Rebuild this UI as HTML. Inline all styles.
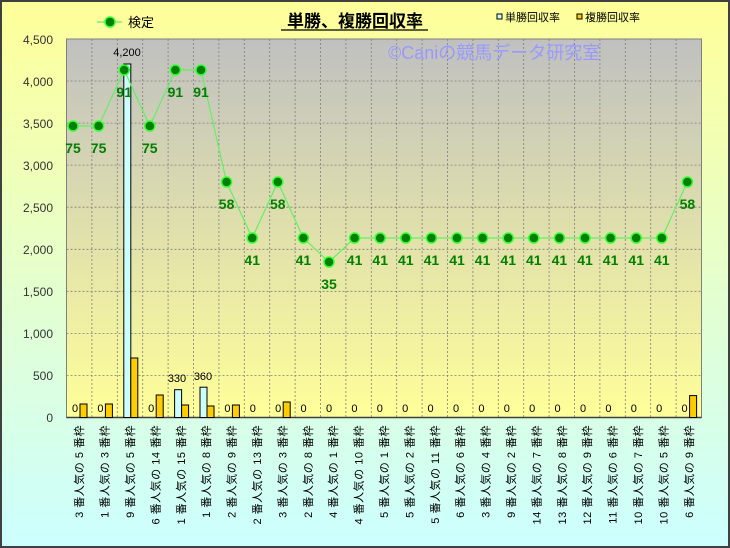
<!DOCTYPE html>
<html><head><meta charset="utf-8"><style>
html,body{margin:0;padding:0;}
svg{display:block;font-family:"Liberation Sans","Noto Sans CJK JP",sans-serif;}
</style></head><body>
<svg width="730" height="548" viewBox="0 0 730 548" xmlns="http://www.w3.org/2000/svg">
<defs>
<linearGradient id="bg" x1="0" y1="0" x2="0" y2="1"><stop offset="0" stop-color="#ffff99"/><stop offset="1" stop-color="#ccffff"/></linearGradient>
<linearGradient id="pa" x1="0" y1="0" x2="0" y2="1"><stop offset="0" stop-color="#c0c0c0"/><stop offset="1" stop-color="#ffff99"/></linearGradient>
</defs>
<rect x="1" y="1" width="728" height="546" fill="url(#bg)" stroke="#404040" stroke-width="2"/>
<rect x="66.5" y="39" width="635" height="378.5" fill="url(#pa)" stroke="#808080"/>
<g stroke="#808080" stroke-dasharray="2,2" stroke-width="0.8">
<line x1="66.5" x2="701.5" y1="375.4" y2="375.4"/><line x1="66.5" x2="701.5" y1="333.4" y2="333.4"/><line x1="66.5" x2="701.5" y1="291.3" y2="291.3"/><line x1="66.5" x2="701.5" y1="249.3" y2="249.3"/><line x1="66.5" x2="701.5" y1="207.2" y2="207.2"/><line x1="66.5" x2="701.5" y1="165.1" y2="165.1"/><line x1="66.5" x2="701.5" y1="123.1" y2="123.1"/><line x1="66.5" x2="701.5" y1="81" y2="81"/>
<line y1="39" y2="417.5" x1="91.9" x2="91.9"/><line y1="39" y2="417.5" x1="117.3" x2="117.3"/><line y1="39" y2="417.5" x1="142.7" x2="142.7"/><line y1="39" y2="417.5" x1="168.1" x2="168.1"/><line y1="39" y2="417.5" x1="193.5" x2="193.5"/><line y1="39" y2="417.5" x1="218.9" x2="218.9"/><line y1="39" y2="417.5" x1="244.3" x2="244.3"/><line y1="39" y2="417.5" x1="269.7" x2="269.7"/><line y1="39" y2="417.5" x1="295.1" x2="295.1"/><line y1="39" y2="417.5" x1="320.5" x2="320.5"/><line y1="39" y2="417.5" x1="345.9" x2="345.9"/><line y1="39" y2="417.5" x1="371.3" x2="371.3"/><line y1="39" y2="417.5" x1="396.7" x2="396.7"/><line y1="39" y2="417.5" x1="422.1" x2="422.1"/><line y1="39" y2="417.5" x1="447.5" x2="447.5"/><line y1="39" y2="417.5" x1="472.9" x2="472.9"/><line y1="39" y2="417.5" x1="498.3" x2="498.3"/><line y1="39" y2="417.5" x1="523.7" x2="523.7"/><line y1="39" y2="417.5" x1="549.1" x2="549.1"/><line y1="39" y2="417.5" x1="574.5" x2="574.5"/><line y1="39" y2="417.5" x1="599.9" x2="599.9"/><line y1="39" y2="417.5" x1="625.3" x2="625.3"/><line y1="39" y2="417.5" x1="650.7" x2="650.7"/><line y1="39" y2="417.5" x1="676.1" x2="676.1"/>
</g>
<line x1="66.5" x2="701.5" y1="417.5" y2="417.5" stroke="#404040" stroke-width="1.5"/>
<text x="388" y="59" font-size="18" fill="#9999ff">©Caniの競馬データ研究室</text>
<g font-size="12" fill="#333" text-anchor="end">
<text x="53" y="44">4,500</text><text x="53" y="86">4,000</text><text x="53" y="128">3,500</text><text x="53" y="170">3,000</text><text x="53" y="212">2,500</text><text x="53" y="254">2,000</text><text x="53" y="296">1,500</text><text x="53" y="338">1,000</text><text x="53" y="380">500</text><text x="53" y="422">0</text>
</g>
<g stroke="#000" stroke-width="1">
<g fill="#ccffff">
<rect x="123.8" y="64" width="7" height="353.5"/><rect x="174.6" y="389.7" width="7" height="27.8"/><rect x="200" y="387.2" width="7" height="30.3"/>
</g>
<g fill="#ffcc00">
<rect x="80" y="404" width="7" height="13.5"/><rect x="105.4" y="404" width="7" height="13.5"/><rect x="130.8" y="358" width="7" height="59.5"/><rect x="156.2" y="395" width="7" height="22.5"/><rect x="181.6" y="405" width="7" height="12.5"/><rect x="207" y="406" width="7" height="11.5"/><rect x="232.4" y="405" width="7" height="12.5"/><rect x="283.2" y="402" width="7" height="15.5"/><rect x="689.6" y="395.6" width="7" height="21.9"/>
</g>
</g>
<g font-size="11" fill="#000" text-anchor="middle">
<text x="127" y="56">4,200</text><text x="177" y="382">330</text><text x="203" y="380">360</text>
<text x="75" y="412">0</text><text x="100.4" y="412">0</text><text x="151.2" y="412">0</text><text x="227.4" y="412">0</text><text x="252.8" y="412">0</text><text x="278.2" y="412">0</text><text x="303.6" y="412">0</text><text x="329" y="412">0</text><text x="354.4" y="412">0</text><text x="379.8" y="412">0</text><text x="405.2" y="412">0</text><text x="430.6" y="412">0</text><text x="456" y="412">0</text><text x="481.4" y="412">0</text><text x="506.8" y="412">0</text><text x="532.2" y="412">0</text><text x="557.6" y="412">0</text><text x="583" y="412">0</text><text x="608.4" y="412">0</text><text x="633.8" y="412">0</text><text x="659.2" y="412">0</text><text x="684.6" y="412">0</text>
</g>
<polyline fill="none" stroke="#66ee66" stroke-width="1.2" points="73,126 98.6,126 124.2,70 149.8,126 175.4,70 201,70 226.6,182 252.2,238 277.8,182 303.4,238 329,262 354.6,238 380.2,238 405.8,238 431.4,238 457,238 482.6,238 508.2,238 533.8,238 559.4,238 585,238 610.6,238 636.2,238 661.8,238 687.4,182"/>
<g fill="#008000" stroke="#33ff33" stroke-width="1.5">
<circle cx="73" cy="126" r="5"/><circle cx="98.6" cy="126" r="5"/><circle cx="124.2" cy="70" r="5"/><circle cx="149.8" cy="126" r="5"/><circle cx="175.4" cy="70" r="5"/><circle cx="201" cy="70" r="5"/><circle cx="226.6" cy="182" r="5"/><circle cx="252.2" cy="238" r="5"/><circle cx="277.8" cy="182" r="5"/><circle cx="303.4" cy="238" r="5"/><circle cx="329" cy="262" r="5"/><circle cx="354.6" cy="238" r="5"/><circle cx="380.2" cy="238" r="5"/><circle cx="405.8" cy="238" r="5"/><circle cx="431.4" cy="238" r="5"/><circle cx="457" cy="238" r="5"/><circle cx="482.6" cy="238" r="5"/><circle cx="508.2" cy="238" r="5"/><circle cx="533.8" cy="238" r="5"/><circle cx="559.4" cy="238" r="5"/><circle cx="585" cy="238" r="5"/><circle cx="610.6" cy="238" r="5"/><circle cx="636.2" cy="238" r="5"/><circle cx="661.8" cy="238" r="5"/><circle cx="687.4" cy="182" r="5"/>
</g>
<g font-size="14" font-weight="bold" fill="#008000" text-anchor="middle">
<text x="73" y="153">75</text><text x="98.6" y="153">75</text><text x="124.2" y="97">91</text><text x="149.8" y="153">75</text><text x="175.4" y="97">91</text><text x="201" y="97">91</text><text x="226.6" y="209">58</text><text x="252.2" y="265">41</text><text x="277.8" y="209">58</text><text x="303.4" y="265">41</text><text x="329" y="289">35</text><text x="354.6" y="265">41</text><text x="380.2" y="265">41</text><text x="405.8" y="265">41</text><text x="431.4" y="265">41</text><text x="457" y="265">41</text><text x="482.6" y="265">41</text><text x="508.2" y="265">41</text><text x="533.8" y="265">41</text><text x="559.4" y="265">41</text><text x="585" y="265">41</text><text x="610.6" y="265">41</text><text x="636.2" y="265">41</text><text x="661.8" y="265">41</text><text x="687.4" y="209">58</text>
</g>
<g font-size="11" fill="#000" text-anchor="end" letter-spacing="0.5">
<text transform="translate(83.2,425) rotate(-90)">3 番人気の 5 番枠</text>
<text transform="translate(108.6,425) rotate(-90)">1 番人気の 3 番枠</text>
<text transform="translate(134,425) rotate(-90)">9 番人気の 5 番枠</text>
<text transform="translate(159.4,425) rotate(-90)">6 番人気の 14 番枠</text>
<text transform="translate(184.8,425) rotate(-90)">1 番人気の 15 番枠</text>
<text transform="translate(210.2,425) rotate(-90)">1 番人気の 8 番枠</text>
<text transform="translate(235.6,425) rotate(-90)">2 番人気の 9 番枠</text>
<text transform="translate(261,425) rotate(-90)">2 番人気の 13 番枠</text>
<text transform="translate(286.4,425) rotate(-90)">3 番人気の 3 番枠</text>
<text transform="translate(311.8,425) rotate(-90)">2 番人気の 8 番枠</text>
<text transform="translate(337.2,425) rotate(-90)">4 番人気の 1 番枠</text>
<text transform="translate(362.6,425) rotate(-90)">4 番人気の 10 番枠</text>
<text transform="translate(388,425) rotate(-90)">5 番人気の 1 番枠</text>
<text transform="translate(413.4,425) rotate(-90)">5 番人気の 2 番枠</text>
<text transform="translate(438.8,425) rotate(-90)">5 番人気の 11 番枠</text>
<text transform="translate(464.2,425) rotate(-90)">6 番人気の 6 番枠</text>
<text transform="translate(489.6,425) rotate(-90)">3 番人気の 4 番枠</text>
<text transform="translate(515,425) rotate(-90)">9 番人気の 2 番枠</text>
<text transform="translate(540.4,425) rotate(-90)">14 番人気の 7 番枠</text>
<text transform="translate(565.8,425) rotate(-90)">13 番人気の 8 番枠</text>
<text transform="translate(591.2,425) rotate(-90)">12 番人気の 9 番枠</text>
<text transform="translate(616.6,425) rotate(-90)">11 番人気の 6 番枠</text>
<text transform="translate(642,425) rotate(-90)">10 番人気の 7 番枠</text>
<text transform="translate(667.4,425) rotate(-90)">10 番人気の 5 番枠</text>
<text transform="translate(692.8,425) rotate(-90)">6 番人気の 9 番枠</text>
</g>
<text x="355" y="27" font-size="17" font-weight="bold" text-anchor="middle" fill="#000">単勝、複勝回収率</text>
<line x1="281" x2="428" y1="30" y2="30" stroke="#000" stroke-width="1.2"/>
<line x1="97" x2="122" y1="22" y2="22" stroke="#66ee66" stroke-width="1.2"/>
<circle cx="110" cy="22" r="5" fill="#008000" stroke="#33ff33" stroke-width="1.5"/>
<text x="128" y="27" font-size="13" fill="#000">検定</text>
<rect x="497" y="14" width="5" height="5" fill="#ccffff" stroke="#000"/>
<text x="505" y="21" font-size="11" fill="#000">単勝回収率</text>
<rect x="577" y="14" width="5" height="5" fill="#ffcc00" stroke="#000"/>
<text x="585" y="21" font-size="11" fill="#000">複勝回収率</text>
</svg>
</body></html>
